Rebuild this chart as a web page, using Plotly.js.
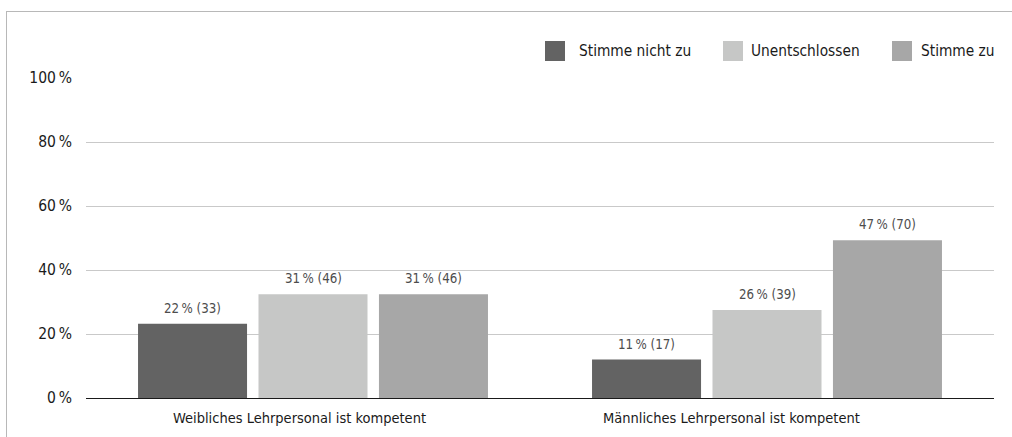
<!DOCTYPE html>
<html>
<head>
<meta charset="utf-8">
<script src="https://cdn.plot.ly/plotly-3.0.1.min.js"></script>
<style>
  html, body { margin: 0; padding: 0; background: #ffffff; overflow: hidden; }
  #frame { position: absolute; left: 6px; top: 11px; width: 1100px; height: 500px;
           border: 1.5px solid #b8b8b8; box-sizing: border-box; }
  #chart { position: absolute; left: 0; top: 0; width: 1012px; height: 437px; }
</style>
</head>
<body>
<div id="frame"></div>
<div id="chart"></div>
<script>
const categories = ["Weibliches Lehrpersonal ist kompetent", "Männliches Lehrpersonal ist kompetent"];
const seriesNames = ["Stimme nicht zu", "Unentschlossen", "Stimme zu"];
const stimmeNichtZu = [23.2, 12.0];
const unentschlossen = [32.4, 27.5];
const stimmeZu = [32.4, 49.3];
const labelsNichtZu = ["22\u2009% (33)", "11\u2009% (17)"];
const labelsUnentschlossen = ["31\u2009% (46)", "26\u2009% (39)"];
const labelsStimmeZu = ["31\u2009% (46)", "47\u2009% (70)"];
const yTicks = [0, 20, 40, 60, 80, 100];
const yTickText = ["0\u2009%", "20\u2009%", "40\u2009%", "60\u2009%", "80\u2009%", "100\u2009%"];

const colors = ["#636363", "#c6c7c6", "#a7a7a7"];
const FONT = "'DejaVu Sans Condensed', 'Open Sans', sans-serif";

const values = [stimmeNichtZu, unentschlossen, stimmeZu];
const labels = [labelsNichtZu, labelsUnentschlossen, labelsStimmeZu];

const traces = seriesNames.map((name, i) => ({
  type: "bar",
  name: name,
  x: categories,
  y: values[i],
  marker: { color: colors[i], line: { width: 0 } },
  hoverinfo: "none",
  showlegend: false
}));

const M = { l: 86, r: 18, t: 78, b: 39 };
const W = 1012, H = 437;
const BARGAP = 0.204, BARGROUPGAP = 0.095;
const pw = W - M.l - M.r, ph = H - M.t - M.b;
const px2x = p => (p - M.l) / pw;
const py2y = p => (H - M.b - p) / ph;
const shapes = [];
const annotations = [];

// value labels above bars (offset per series from the group layout)
const slotPx = (pw / categories.length) * (1 - BARGAP) / seriesNames.length;
seriesNames.forEach((name, i) => {
  categories.forEach((c, j) => {
    annotations.push({
      xref: "x", yref: "y", x: c, y: values[i][j],
      xanchor: "center", yanchor: "bottom",
      xshift: (i - (seriesNames.length - 1) / 2) * slotPx, yshift: 6,
      text: labels[i][j], showarrow: false,
      font: { family: FONT, size: 13.2, color: "#4d4d4d" }
    });
  });
});

// manual legend
const legendSquareX = [545, 723, 892];
const legendTextX = [577, 749, 919];
seriesNames.forEach((name, i) => {
  shapes.push({
    type: "rect", xref: "paper", yref: "paper",
    x0: px2x(legendSquareX[i]), x1: px2x(legendSquareX[i] + 20),
    y0: py2y(61), y1: py2y(41),
    fillcolor: colors[i], line: { width: 0 }
  });
  annotations.push({
    xref: "paper", yref: "paper",
    x: px2x(legendTextX[i]), y: py2y(51),
    xanchor: "left", yanchor: "middle",
    text: name, showarrow: false,
    font: { family: FONT, size: 15.3, color: "#1a1a1a" }
  });
});
// category labels (slightly left of the bar groups, as in the original)
const catShift = [-14, -36];
categories.forEach((c, i) => {
  annotations.push({
    xref: "x", yref: "paper", x: c, y: 0,
    xanchor: "center", yanchor: "top", yshift: -10, xshift: catShift[i],
    text: c, showarrow: false,
    font: { family: FONT, size: 14.5, color: "#1a1a1a" }
  });
});

const layout = {
  width: W, height: H,
  margin: M,
  paper_bgcolor: "rgba(0,0,0,0)",
  plot_bgcolor: "rgba(0,0,0,0)",
  barmode: "group",
  bargap: BARGAP,
  bargroupgap: BARGROUPGAP,
  showlegend: false,
  font: { family: FONT, size: 15, color: "#1a1a1a" },
  xaxis: {
    type: "category",
    showgrid: false,
    showline: true, linecolor: "#1a1a1a", linewidth: 1,
    ticks: "",
    showticklabels: false,
    fixedrange: true
  },
  yaxis: {
    range: [0, 100],
    tickvals: yTicks,
    ticktext: yTickText,
    showgrid: true, gridcolor: "#c9c9c9", gridwidth: 1,
    zeroline: false,
    showline: false,
    ticks: "",
    ticklabelstandoff: 13,
    tickfont: { family: FONT, size: 15.5, color: "#1a1a1a" },
    fixedrange: true
  },
  shapes: shapes,
  annotations: annotations
};

Plotly.newPlot("chart", traces, layout, { displayModeBar: false, staticPlot: true });
</script>
</body>
</html>
